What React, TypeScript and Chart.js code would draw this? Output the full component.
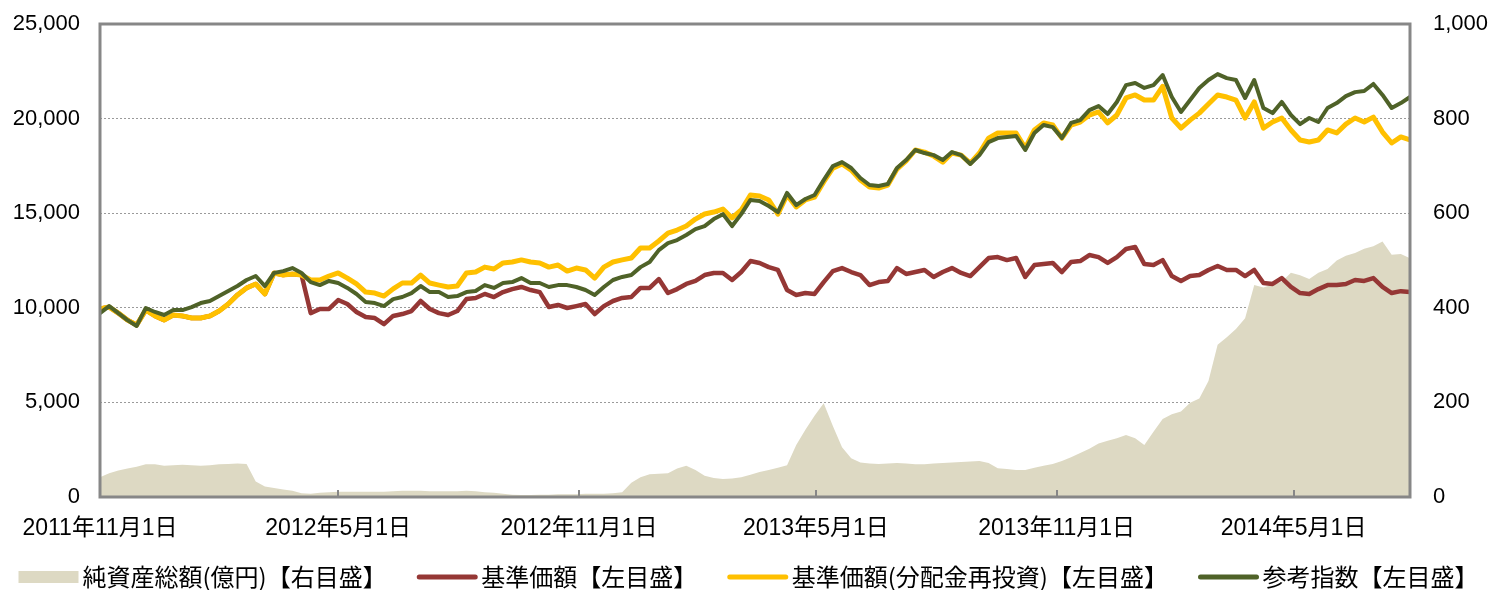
import React, { useEffect, useRef } from "react";
import { Chart, registerables } from "chart.js";

Chart.register(...registerables);

// Weekly observations starting 2011-11-01 (x = days since start)
const START_DATE = "2011-11-01";
const WEEK_STEP_DAYS = 7;
const END_DAY = 1001; // 2014-07-29

const tickDates = ["2011-11-01", "2012-05-01", "2012-11-01", "2013-05-01", "2013-11-01", "2014-05-01"];
const tickLabels = ["2011年11月1日", "2012年5月1日", "2012年11月1日", "2013年5月1日", "2013年11月1日", "2014年5月1日"];

const seriesNames = [
  "純資産総額(億円)【右目盛】",
  "基準価額【左目盛】",
  "基準価額(分配金再投資)【左目盛】",
  "参考指数【左目盛】",
];

// 純資産総額 (億円, right axis)
const netAssets = [
  42, 50, 56, 60, 64, 69, 69, 66, 67, 68,
  67, 66, 67, 69, 70, 71, 70, 33, 22, 19,
  16, 13, 8, 7, 9, 10, 11, 11, 11, 11,
  11, 11, 12, 13, 13, 13, 12, 12, 12, 12,
  13, 12, 10, 9, 7, 5, 4, 4, 5, 5,
  6, 6, 6, 7, 7, 7, 8, 10, 30, 42,
  48, 49, 50, 60, 66, 57, 45, 40, 38, 39,
  42, 47, 53, 57, 62, 67, 110, 142, 172, 198,
  150, 105, 82, 73, 71, 70, 71, 72, 71, 69,
  69, 71, 72, 73, 74, 75, 76, 72, 61, 59,
  57, 57, 62, 66, 70, 76, 84, 93, 102, 113,
  119, 124, 131, 124, 110, 138, 165, 175, 181, 199,
  208, 245, 322, 338, 355, 378, 448, 443, 449, 455,
  474, 469, 461, 474, 482, 500, 510, 516, 525, 530,
  540, 512, 514, 505,
];

// 基準価額 (left axis)
const navPrice = [
  9950, 10040, 9720, 9350, 9090, 9880, 9570, 9350, 9620, 9570,
  9460, 9460, 9570, 9830, 10200, 10680, 11050, 11260, 10730, 11840,
  11730, 11790, 11730, 9720, 9940, 9940, 10410, 10200, 9780, 9510,
  9460, 9140, 9570, 9670, 9830, 10360, 9940, 9720, 9620, 9830,
  10460, 10520, 10730, 10570, 10830, 10990, 11100, 10940, 10830, 10040,
  10150, 9990, 10090, 10200, 9670, 10090, 10360, 10520, 10570, 11050,
  11050, 11520, 10780, 10990, 11260, 11420, 11730, 11840, 11840, 11470,
  11890, 12470, 12370, 12150, 12000, 10940, 10680, 10780, 10730, 11360,
  11940, 12100, 11890, 11730, 11200, 11360, 11420, 12100, 11790, 11890,
  12000, 11630, 11890, 12100, 11840, 11680, 12150, 12630, 12680, 12520,
  12630, 11630, 12260, 12310, 12370, 11890, 12420, 12470, 12790, 12680,
  12370, 12680, 13110, 13210, 12310, 12260, 12520, 11680, 11420, 11680,
  11730, 12000, 12210, 12000, 12000, 11680, 12000, 11310, 11260, 11570,
  11100, 10780, 10730, 10990, 11200, 11200, 11260, 11470, 11420, 11570,
  11100, 10780, 10880, 10830,
];

// 基準価額(分配金再投資) (left axis)
const navReinvested = [
  9950, 10040, 9720, 9350, 9090, 9880, 9570, 9350, 9620, 9570,
  9460, 9460, 9570, 9830, 10200, 10680, 11050, 11260, 10730, 11840,
  11730, 11790, 11730, 11470, 11470, 11680, 11840, 11570, 11260, 10830,
  10780, 10620, 11000, 11310, 11310, 11730, 11310, 11200, 11100, 11150,
  11840, 11890, 12150, 12050, 12370, 12420, 12530, 12420, 12370, 12150,
  12260, 11940, 12100, 12000, 11570, 12150, 12420, 12530, 12630, 13160,
  13160, 13530, 13950, 14110, 14320, 14690, 14960, 15060, 15220, 14750,
  15170, 15960, 15910, 15700, 14950, 15960, 15330, 15700, 15850, 16650,
  17380, 17600, 17280, 16750, 16380, 16330, 16490, 17330, 17760, 18340,
  18230, 18020, 17700, 18180, 18070, 17650, 18180, 18970, 19240, 19240,
  19240, 18440, 19400, 19770, 19660, 18970, 19660, 19820, 20190, 20350,
  19770, 20190, 21090, 21250, 20980, 20980, 21700, 20030, 19500, 19920,
  20290, 20770, 21250, 21140, 20980, 20030, 20880, 19500, 19820, 20030,
  19400, 18870, 18760, 18870, 19400, 19240, 19710, 20030, 19820, 20080,
  19290, 18710, 19030, 18870,
];

// 参考指数 (left axis)
const referenceIndex = [
  9720, 10090, 9720, 9350, 9040, 9990, 9780, 9620, 9880, 9880,
  10040, 10250, 10360, 10620, 10890, 11150, 11470, 11680, 11150, 11840,
  11940, 12100, 11840, 11360, 11200, 11420, 11310, 11050, 10730, 10310,
  10250, 10090, 10460, 10570, 10780, 11150, 10830, 10830, 10570, 10620,
  10830, 10890, 11200, 11050, 11310, 11360, 11570, 11310, 11310, 11100,
  11200, 11200, 11100, 10940, 10680, 11100, 11470, 11630, 11730, 12150,
  12420, 13050, 13420, 13580, 13850, 14160, 14320, 14690, 14950, 14320,
  14950, 15700, 15640, 15380, 15060, 16070, 15430, 15750, 15960, 16750,
  17490, 17700, 17390, 16860, 16490, 16440, 16540, 17390, 17810, 18340,
  18180, 18070, 17810, 18230, 18070, 17600, 18070, 18760, 18970, 19030,
  19080, 18340, 19240, 19660, 19550, 18970, 19770, 19920, 20450, 20660,
  20240, 20880, 21770, 21880, 21620, 21770, 22300, 21140, 20350, 20980,
  21620, 22040, 22350, 22140, 22040, 21090, 22040, 20560, 20290, 20880,
  20190, 19710, 20030, 19820, 20560, 20820, 21190, 21400, 21460, 21830,
  21250, 20560, 20820, 21140,
];

const dayOf = (d: string) => Math.round((Date.parse(d) - Date.parse(START_DATE)) / 86400000);
const tickDays = tickDates.map(dayOf);
const toXY = (arr: number[]) => arr.map((v, i) => ({ x: i * WEEK_STEP_DAYS, y: v }));

const LATIN = "'Liberation Sans', Arial, sans-serif";
const JP = "'Liberation Sans', 'Noto Sans CJK JP', sans-serif";
const JP_LEGEND = "'Noto Sans CJK JP', sans-serif";

const framePlugin = {
  id: "frame",
  afterDatasetsDraw(chart: any) {
    const { ctx, chartArea: a, scales } = chart;
    ctx.save();
    ctx.strokeStyle = "#878787";
    ctx.lineWidth = 2;
    ctx.beginPath();
    scales.x.ticks.forEach((t: any, i: number) => {
      if (i === 0) return;
      const px = Math.round(scales.x.getPixelForValue(t.value));
      ctx.moveTo(px, a.bottom);
      ctx.lineTo(px, a.bottom - 7);
    });
    ctx.stroke();
    ctx.lineWidth = 3;
    ctx.strokeRect(a.left, a.top, a.right - a.left, a.bottom - a.top);
    ctx.restore();
  },
};

// Legend drawn on the canvas, in dataset order
const legendPlugin = {
  id: "bottomLegend",
  afterDraw(chart: any) {
    const { ctx, width } = chart;
    const ds = chart.data.datasets;
    const symW = 60;
    const textGap = 4;
    const totalW = 1460;
    const cy = 577;
    ctx.save();
    ctx.font = `24px ${JP_LEGEND}`;
    ctx.textBaseline = "middle";
    ctx.textAlign = "left";
    const widths = ds.map((d: any) => ctx.measureText(d.label).width);
    const itemsW = widths.reduce((s: number, w: number) => s + symW + textGap + w, 0);
    const gap = (totalW - itemsW) / (ds.length - 1);
    let x = (width - totalW) / 2;
    ds.forEach((d: any, i: number) => {
      if (d.fill) {
        ctx.fillStyle = d.backgroundColor;
        ctx.fillRect(x, cy - 6, symW, 12);
      } else {
        ctx.strokeStyle = d.borderColor;
        ctx.lineWidth = 5;
        ctx.lineCap = "round";
        ctx.beginPath();
        ctx.moveTo(x + 2, cy);
        ctx.lineTo(x + symW - 2, cy);
        ctx.stroke();
      }
      ctx.fillStyle = "#000";
      ctx.fillText(d.label, x + symW + textGap, cy);
      x += symW + textGap + widths[i] + gap;
    });
    ctx.restore();
  },
};

const noScalePadding = (s: any) => {
  s.paddingTop = 0;
  s.paddingBottom = 0;
};

export default function App() {
  const ref = useRef<HTMLCanvasElement | null>(null);

  useEffect(() => {
    document.body.style.margin = "0";
    const canvas = ref.current;
    if (!canvas) return;
    const chart = new Chart(canvas, {
      type: "line",
      data: {
        datasets: [
          {
            label: seriesNames[0],
            data: toXY(netAssets),
            yAxisID: "y1",
            fill: "origin",
            backgroundColor: "#DDD9C3",
            borderColor: "#DDD9C3",
            borderWidth: 0,
            pointRadius: 0,
            tension: 0,
            order: 4,
          },
          {
            label: seriesNames[1],
            data: toXY(navPrice),
            yAxisID: "y",
            fill: false,
            borderColor: "#953735",
            backgroundColor: "#953735",
            borderWidth: 4.5,
            borderCapStyle: "round",
            borderJoinStyle: "round",
            pointRadius: 0,
            tension: 0,
            order: 3,
          },
          {
            label: seriesNames[2],
            data: toXY(navReinvested),
            yAxisID: "y",
            fill: false,
            borderColor: "#FFC000",
            backgroundColor: "#FFC000",
            borderWidth: 5,
            borderCapStyle: "round",
            borderJoinStyle: "round",
            pointRadius: 0,
            tension: 0,
            order: 2,
          },
          {
            label: seriesNames[3],
            data: toXY(referenceIndex),
            yAxisID: "y",
            fill: false,
            borderColor: "#4F6228",
            backgroundColor: "#4F6228",
            borderWidth: 4,
            borderCapStyle: "round",
            borderJoinStyle: "round",
            pointRadius: 0,
            tension: 0,
            order: 1,
          },
        ],
      },
      options: {
        animation: false,
        responsive: false,
        layout: { padding: { top: 24, left: 0, right: 0, bottom: 0 } },
        plugins: {
          tooltip: { enabled: false },
          legend: { display: false },
        },
        scales: {
          x: {
            type: "linear",
            min: 0,
            max: END_DAY,
            afterBuildTicks: (s: any) => {
              s.ticks = tickDays.map((v) => ({ value: v }));
            },
            afterFit: (s: any) => {
              s.height = 93;
              s.paddingLeft = 0;
              s.paddingRight = 0;
            },
            grid: { display: false, drawTicks: false },
            border: { display: false },
            ticks: {
              autoSkip: false,
              maxRotation: 0,
              minRotation: 0,
              padding: 18,
              color: "#000",
              font: { family: JP, size: 23 },
              callback: (_v: any, i: number) => tickLabels[i],
            },
          },
          y: {
            position: "left",
            min: 0,
            max: 25000,
            afterFit: (s: any) => {
              s.width = 100;
              noScalePadding(s);
            },
            ticks: {
              stepSize: 5000,
              padding: 20,
              color: "#000",
              font: { family: LATIN, size: 22 },
              callback: (v: any) => Number(v).toLocaleString("en-US"),
            },
            grid: { color: "#9A9A9A", lineWidth: 1, drawTicks: false },
            border: { display: false, dash: [2, 2] },
          },
          y1: {
            position: "right",
            min: 0,
            max: 1000,
            afterFit: (s: any) => {
              s.width = 87;
              noScalePadding(s);
            },
            ticks: {
              stepSize: 200,
              padding: 23,
              color: "#000",
              font: { family: LATIN, size: 22 },
              callback: (v: any) => Number(v).toLocaleString("en-US"),
            },
            grid: { display: false, drawTicks: false },
            border: { display: false },
          },
        },
      },
      plugins: [framePlugin, legendPlugin],
    } as any);
    return () => chart.destroy();
  }, []);

  return (
    <div style={{ width: 1497, height: 590 }}>
      <canvas ref={ref} width={1497} height={590} />
    </div>
  );
}
